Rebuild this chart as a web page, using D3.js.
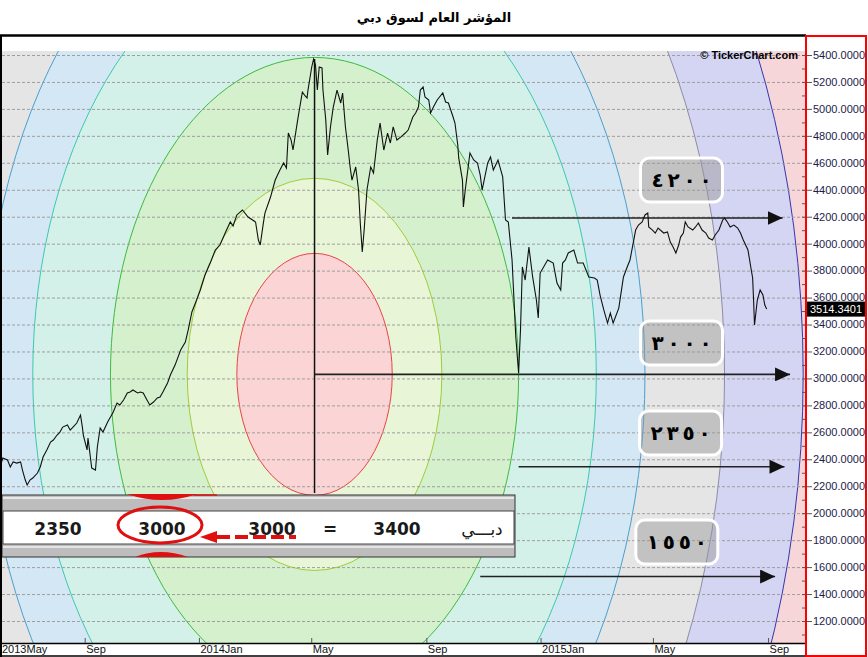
<!DOCTYPE html>
<html>
<head>
<meta charset="utf-8">
<style>
    body { margin: 0; background: #fff; }
    .title { font: bold 13px "DejaVu Sans", sans-serif; }
    .yaxis text { font: 11px "Liberation Sans", sans-serif; fill: #1c1c4c; }
    .xaxis text { font: 11px "Liberation Sans", sans-serif; fill: #111; }
    .lvl text { font: bold 20px "DejaVu Sans", sans-serif; }
    .tbl text { font: bold 17px "DejaVu Sans", sans-serif; fill: #1a1a1a; }
</style>
<script src="https://d3js.org/d3.v7.min.js"></script>
</head>
<body>
<svg width="868" height="657"></svg>
<script>

    // index closes
    var dates = ["2013-06-02","2013-06-05","2013-06-10","2013-06-13","2013-06-16","2013-06-20","2013-06-24","2013-06-26","2013-06-29","2013-07-01",
        "2013-07-04","2013-07-07","2013-07-12","2013-07-15","2013-07-18","2013-07-22","2013-07-26","2013-07-29","2013-08-02","2013-08-05",
        "2013-08-08","2013-08-13","2013-08-16","2013-08-19","2013-08-23","2013-08-27","2013-08-29","2013-08-30","2013-09-03","2013-09-04",
        "2013-09-08","2013-09-12","2013-09-14","2013-09-17","2013-09-20","2013-09-25","2013-09-28","2013-10-01","2013-10-05","2013-10-08",
        "2013-10-12","2013-10-16","2013-10-19","2013-10-22","2013-10-27","2013-10-30","2013-11-02","2013-11-06","2013-11-09","2013-11-13",
        "2013-11-17","2013-11-20","2013-11-23","2013-11-28","2013-12-01","2013-12-06","2013-12-12","2013-12-17","2013-12-20","2013-12-24",
        "2013-12-29","2014-01-02","2014-01-07","2014-01-13","2014-01-18","2014-01-23","2014-01-29","2014-02-03","2014-02-06","2014-02-10",
        "2014-02-16","2014-02-22","2014-03-02","2014-03-05","2014-03-07","2014-03-10","2014-03-12","2014-03-18","2014-03-23","2014-03-28",
        "2014-04-01","2014-04-04","2014-04-06","2014-04-09","2014-04-11","2014-04-16","2014-04-19","2014-04-21","2014-04-24","2014-04-26",
        "2014-04-27","2014-05-01","2014-05-03","2014-05-05","2014-05-07","2014-05-09","2014-05-12","2014-05-13","2014-05-16","2014-05-18",
        "2014-05-21","2014-05-24","2014-05-28","2014-06-01","2014-06-03","2014-06-06","2014-06-09","2014-06-11","2014-06-13","2014-06-17",
        "2014-06-20","2014-06-22","2014-06-24","2014-06-26","2014-06-29","2014-07-03","2014-07-06","2014-07-10","2014-07-13","2014-07-17",
        "2014-07-21","2014-07-24","2014-07-27","2014-07-31","2014-08-04","2014-08-09","2014-08-12","2014-08-17","2014-08-20","2014-08-23",
        "2014-08-25","2014-08-28","2014-08-30","2014-09-03","2014-09-05","2014-09-08","2014-09-12","2014-09-18","2014-09-21","2014-09-24",
        "2014-09-29","2014-10-01","2014-10-04","2014-10-05","2014-10-09","2014-10-10","2014-10-12","2014-10-17","2014-10-21","2014-10-25",
        "2014-10-28","2014-10-30","2014-11-05","2014-11-08","2014-11-11","2014-11-16","2014-11-21","2014-11-24","2014-11-27","2014-12-01",
        "2014-12-05","2014-12-08","2014-12-10","2014-12-12","2014-12-15","2014-12-19","2014-12-23","2014-12-27","2014-12-29","2014-12-31",
        "2015-01-08","2015-01-14","2015-01-18","2015-01-22","2015-01-24","2015-01-27","2015-01-30","2015-02-05","2015-02-09","2015-02-15",
        "2015-02-21","2015-02-27","2015-03-02","2015-03-05","2015-03-09","2015-03-13","2015-03-16","2015-03-19","2015-03-25","2015-03-30",
        "2015-04-03","2015-04-06","2015-04-10","2015-04-12","2015-04-15","2015-04-19","2015-04-22","2015-04-25","2015-04-26","2015-04-30",
        "2015-05-03","2015-05-06","2015-05-12","2015-05-16","2015-05-19","2015-05-22","2015-05-25","2015-05-28","2015-05-30","2015-06-02",
        "2015-06-04","2015-06-07","2015-06-12","2015-06-15","2015-06-18","2015-06-22","2015-06-26","2015-06-29","2015-07-03","2015-07-06",
        "2015-07-10","2015-07-14","2015-07-16","2015-07-19","2015-07-22","2015-07-26","2015-07-30","2015-08-02","2015-08-05","2015-08-10",
        "2015-08-13","2015-08-15","2015-08-16","2015-08-17","2015-08-20","2015-08-23","2015-08-26","2015-08-28","2015-08-30"];
    var closes = [2343,2409,2395,2343,2380,2372,2380,2320,2246,2209,
        2246,2261,2298,2343,2417,2469,2528,2543,2580,2602,
        2639,2654,2617,2639,2669,2728,2639,2580,2469,2558,
        2335,2320,2491,2632,2602,2676,2714,2751,2817,2803,
        2840,2892,2899,2914,2892,2899,2892,2840,2803,2825,
        2855,2862,2899,2966,3025,3099,3211,3270,3359,3493,
        3582,3656,3767,3864,3953,3990,4087,4161,4131,4213,
        4250,4198,4161,4027,3990,4138,4227,4346,4472,4547,
        4599,4561,4821,4769,4695,4918,5044,5125,5096,5081,
        5140,5311,5370,5326,5140,5311,5304,5140,4918,4658,
        4866,5014,5140,5044,5118,4866,4695,4569,4472,4569,
        4398,4138,3938,4101,4398,4569,4524,4769,4895,4695,
        4821,4747,4866,4769,4791,4821,4843,4940,4970,5014,
        5140,5163,5088,5066,4970,5014,5066,5118,5051,5044,
        4940,4895,4732,4636,4472,4272,4398,4673,4621,4599,
        4509,4398,4599,4643,4547,4621,4495,4176,4161,3879,
        3307,3040,3359,3827,3730,3975,3753,3582,3448,3782,
        3879,3856,3708,3656,3856,3879,3931,3953,3856,3856,
        3753,3745,3730,3619,3508,3411,3485,3411,3522,3753,
        3827,3879,4027,4101,4138,4161,4213,4227,4124,4101,
        4079,4116,4079,4087,4012,3975,3931,3990,4049,4079,
        4161,4124,4101,4124,4153,4101,4079,4042,4027,4064,
        4101,4176,4190,4161,4124,4138,4116,4079,4027,3953,
        3827,3745,3582,3396,3582,3656,3619,3545,3514.3401];

    var priceTicks = [1200,1400,1600,1800,2000,2200,2400,2600,2800,3000,3200,3400,3600,3800,4000,4200,4400,4600,4800,5000,5200,5400];
    var monthTicks = ["2013-09-01","2014-01-01","2014-05-01","2014-09-01","2015-01-01","2015-05-01","2015-09-01"];
    var monthLabels = ["Sep","2014Jan","May","Sep","2015Jan","May","Sep"];

    // time/price rings around the May 2014 top
    var centerDate = "2014-05-04", centerValue = 3030, peakValue = 5370;
    var ringDays = [522, 438, 353, 301, 218, 136, 83];
    var ringSpan = [5610, 4720, 3800, 3243, 2352, 1455, 898];
    var ringFill = ["#d4d4f3", "#e5e5e5", "#d4e7f4", "#d3f1e9", "#d5f0cd", "#e9f5d7", "#fbd5d6"];
    var ringStroke = ["#3535b0", "#8c8ca8", "#4a9fd0", "#3cc9ae", "#3dbb3d", "#9fcc3c", "#e84444"];

    // support arrows and their labels
    var levels = [4190, 3030, 2345, 1530];
    var levelFrom = ["2014-12-01", "2014-05-04", "2014-12-08", "2014-10-28"];
    var levelTo = ["2015-09-16", "2015-09-24", "2015-09-18", "2015-09-08"];
    var levelText = ["٤٢٠٠", "٣٠٠٠", "٢٣٥٠", "١٥٥٠"];
    var levelBoxDate = ["2015-05-31", "2015-05-31", "2015-05-30", "2015-05-26"];
    var levelBoxValue = [4472, 3263, 2595, 1786];

    var tableCells = ["2350", "3000", "3000", "=", "3400", "دبـــي"];
    var tableX = [58, 162, 272, 330, 397, 482];

    var parse = d3.timeParse("%Y-%m-%d");
    var svg = d3.select("svg");

    var x = d3.scaleTime()
              .domain([parse("2013-06-02"), parse("2015-10-11")])
              .range([0, 806]);
    var y = d3.scaleLinear().domain([1200, 5400]).range([621, 55]);

    var defs = svg.append("defs");
    defs.append("clipPath").attr("id", "plotclip")
        .append("rect").attr("x", 0).attr("y", 51).attr("width", 806).attr("height", 592);
    defs.append("marker").attr("id", "head")
        .attr("markerUnits", "userSpaceOnUse")
        .attr("markerWidth", 16).attr("markerHeight", 14)
        .attr("refX", 15).attr("refY", 7).attr("orient", "auto")
        .append("path").attr("d", "M0,0L15,7L0,14Z").attr("fill", "#111");

    var plot = svg.append("g").attr("clip-path", "url(#plotclip)");

    plot.append("rect").attr("x", 0).attr("y", 51).attr("width", 806).attr("height", 592)
        .attr("fill", "#f6d6d9");

    var cDate = parse(centerDate), cx = x(cDate), cy = y(centerValue);
    plot.selectAll(".ring")
        .data(ringDays)
        .enter().append("ellipse")
        .attr("class", "ring")
        .attr("cx", cx).attr("cy", cy)
        .attr("rx", function(d) { return x(d3.timeDay.offset(cDate, d)) - cx; })
        .attr("ry", function(d, i) { return y(centerValue - ringSpan[i]) - cy; })
        .attr("fill", function(d, i) { return ringFill[i]; })
        .attr("stroke", function(d, i) { return ringStroke[i]; })
        .attr("stroke-width", 1);

    // dashed grid
    plot.selectAll(".grid")
        .data(priceTicks)
        .enter().append("line")
        .attr("x1", 2).attr("x2", 806)
        .attr("y1", function(d) { return y(d) + 0.5; })
        .attr("y2", function(d) { return y(d) + 0.5; })
        .attr("stroke", "#9e9e9e").attr("stroke-dasharray", "3,2").attr("stroke-width", 1);

    // vertical from the top
    plot.append("line")
        .attr("x1", cx).attr("x2", cx)
        .attr("y1", y(peakValue)).attr("y2", y(2150))
        .attr("stroke", "#111").attr("stroke-width", 1.5);

    // arrows
    plot.selectAll(".arrow")
        .data(levels)
        .enter().append("line")
        .attr("x1", function(d, i) { return x(parse(levelFrom[i])); })
        .attr("x2", function(d, i) { return x(parse(levelTo[i])); })
        .attr("y1", function(d) { return y(d); })
        .attr("y2", function(d) { return y(d); })
        .attr("stroke", "#222").attr("stroke-width", 1.6)
        .attr("marker-end", "url(#head)");

    var line = d3.line()
                 .x(function(d, i) { return x(parse(dates[i])); })
                 .y(function(d) { return y(d); });

    plot.append("path")
        .datum(closes)
        .attr("d", line)
        .attr("fill", "none")
        .attr("stroke", "#111")
        .attr("stroke-width", 1.1);

    // level boxes
    var lvl = plot.selectAll(".lvl")
        .data(levelText)
        .enter().append("g")
        .attr("class", "lvl")
        .attr("transform", function(d, i) {
            return "translate(" + x(parse(levelBoxDate[i])) + "," + y(levelBoxValue[i]) + ")";
        });
    lvl.append("rect")
       .attr("x", -41).attr("y", -22).attr("width", 82).attr("height", 44).attr("rx", 9)
       .attr("fill", "rgba(150,150,150,0.45)")
       .attr("stroke", "#fff").attr("stroke-width", 3);
    // digits spread out one by one
    lvl.append("text")
       .attr("text-anchor", "middle").attr("dy", "0.35em")
       .selectAll("tspan")
       .data(function(d) { return Array.from(d); })
       .enter().append("tspan")
       .attr("x", function(d, i) { return -24 + i * 16; })
       .text(function(d) { return d; });

    plot.append("text")
        .attr("x", 798).attr("y", 59)
        .attr("text-anchor", "end")
        .style("font", "bold 11px 'Liberation Sans', sans-serif")
        .text("© TickerChart.com");

    // pasted table
    var tbl = svg.append("g").attr("class", "tbl");
    tbl.append("rect").attr("x", 2).attr("y", 495).attr("width", 513).attr("height", 62)
       .attr("fill", "#bdbdbd").attr("stroke", "#333").attr("stroke-width", 1);
    tbl.append("rect").attr("x", 3).attr("y", 497).attr("width", 511).attr("height", 2).attr("fill", "#e8e8e8");
    tbl.append("rect").attr("x", 3).attr("y", 511).attr("width", 511).attr("height", 33)
       .attr("fill", "#fff").attr("stroke", "#444").attr("stroke-width", 1);
    tbl.append("rect").attr("x", 3).attr("y", 546).attr("width", 511).attr("height", 2).attr("fill", "#e4e4e4");
    tbl.selectAll(".cell")
       .data(tableCells)
       .enter().append("text")
       .attr("x", function(d, i) { return tableX[i]; })
       .attr("y", 535)
       .attr("text-anchor", "middle")
       .style("font-weight", function(d, i) { return i == 5 ? "normal" : "bold"; })
       .text(function(d) { return d; });

    // red marks
    tbl.append("ellipse").attr("cx", 160).attr("cy", 525).attr("rx", 42).attr("ry", 18)
       .attr("fill", "none").attr("stroke", "#e01010").attr("stroke-width", 3);
    tbl.append("path").attr("d", "M127,494Q162,506 197,494Z").attr("fill", "#e01010");
    tbl.append("line").attr("x1", 194).attr("x2", 217).attr("y1", 495).attr("y2", 495)
       .attr("stroke", "#e01010").attr("stroke-width", 1.5);
    tbl.append("path").attr("d", "M135,557Q160,547 188,557Z").attr("fill", "#e01010");
    tbl.append("line").attr("x1", 217).attr("x2", 296).attr("y1", 537).attr("y2", 537)
       .attr("stroke", "#e01010").attr("stroke-width", 4).attr("stroke-dasharray", "13,5");
    tbl.append("path").attr("d", "M200,537L217,531L217,543Z").attr("fill", "#e01010");

    // frame
    svg.append("line").attr("x1", 0).attr("x2", 806).attr("y1", 35.5).attr("y2", 35.5)
       .attr("stroke", "#000").attr("stroke-width", 2.5);
    svg.append("line").attr("x1", 1).attr("x2", 1).attr("y1", 35).attr("y2", 657)
       .attr("stroke", "#000").attr("stroke-width", 2);
    svg.append("line").attr("x1", 0).attr("x2", 806).attr("y1", 643.5).attr("y2", 643.5)
       .attr("stroke", "#000").attr("stroke-width", 1.5);
    svg.append("line").attr("x1", 0).attr("x2", 806).attr("y1", 656).attr("y2", 656)
       .attr("stroke", "#000").attr("stroke-width", 1.5);

    // x axis
    var xa = svg.append("g").attr("class", "xaxis");
    xa.selectAll(".tk")
      .data(monthTicks)
      .enter().append("line")
      .attr("x1", function(d) { return x(parse(d)); })
      .attr("x2", function(d) { return x(parse(d)); })
      .attr("y1", 638).attr("y2", 643)
      .attr("stroke", "#555");
    xa.selectAll(".lb")
      .data(monthTicks)
      .enter().append("text")
      .attr("x", function(d) { return x(parse(d)) + 1; })
      .attr("y", 653)
      .text(function(d, i) { return monthLabels[i]; });
    xa.append("text").attr("x", x(x.domain()[0]) + 2).attr("y", 653).text("2013May");

    // y axis
    var ya = svg.append("g").attr("class", "yaxis");
    ya.selectAll(".minor")
      .data(d3.range(1100, 5500, 100))
      .enter().append("line")
      .attr("x1", 802).attr("x2", function(d) { return d % 200 == 0 ? 812 : 806; })
      .attr("y1", function(d) { return y(d) + 0.5; })
      .attr("y2", function(d) { return y(d) + 0.5; })
      .attr("stroke", "#555");
    ya.selectAll(".lb")
      .data(priceTicks)
      .enter().append("text")
      .attr("x", 813).attr("y", function(d) { return y(d); })
      .attr("dy", "0.35em")
      .text(function(d) { return d.toFixed(4); });

    var last = closes[closes.length - 1];
    ya.append("rect").attr("x", 807).attr("y", y(last) - 7.5).attr("width", 59).attr("height", 15)
      .attr("fill", "#000");
    ya.append("text").attr("x", 810).attr("y", y(last)).attr("dy", "0.35em")
      .style("fill", "#fff").text(last.toFixed(4));

    svg.append("rect").attr("x", 806).attr("y", 36).attr("width", 60).attr("height", 620)
       .attr("fill", "none").attr("stroke", "#f00").attr("stroke-width", 2);

    svg.append("text")
       .attr("class", "title")
       .attr("x", 434).attr("y", 22)
       .attr("text-anchor", "middle")
       .text("المؤشر العام لسوق دبي");
</script>
</body>
</html>
